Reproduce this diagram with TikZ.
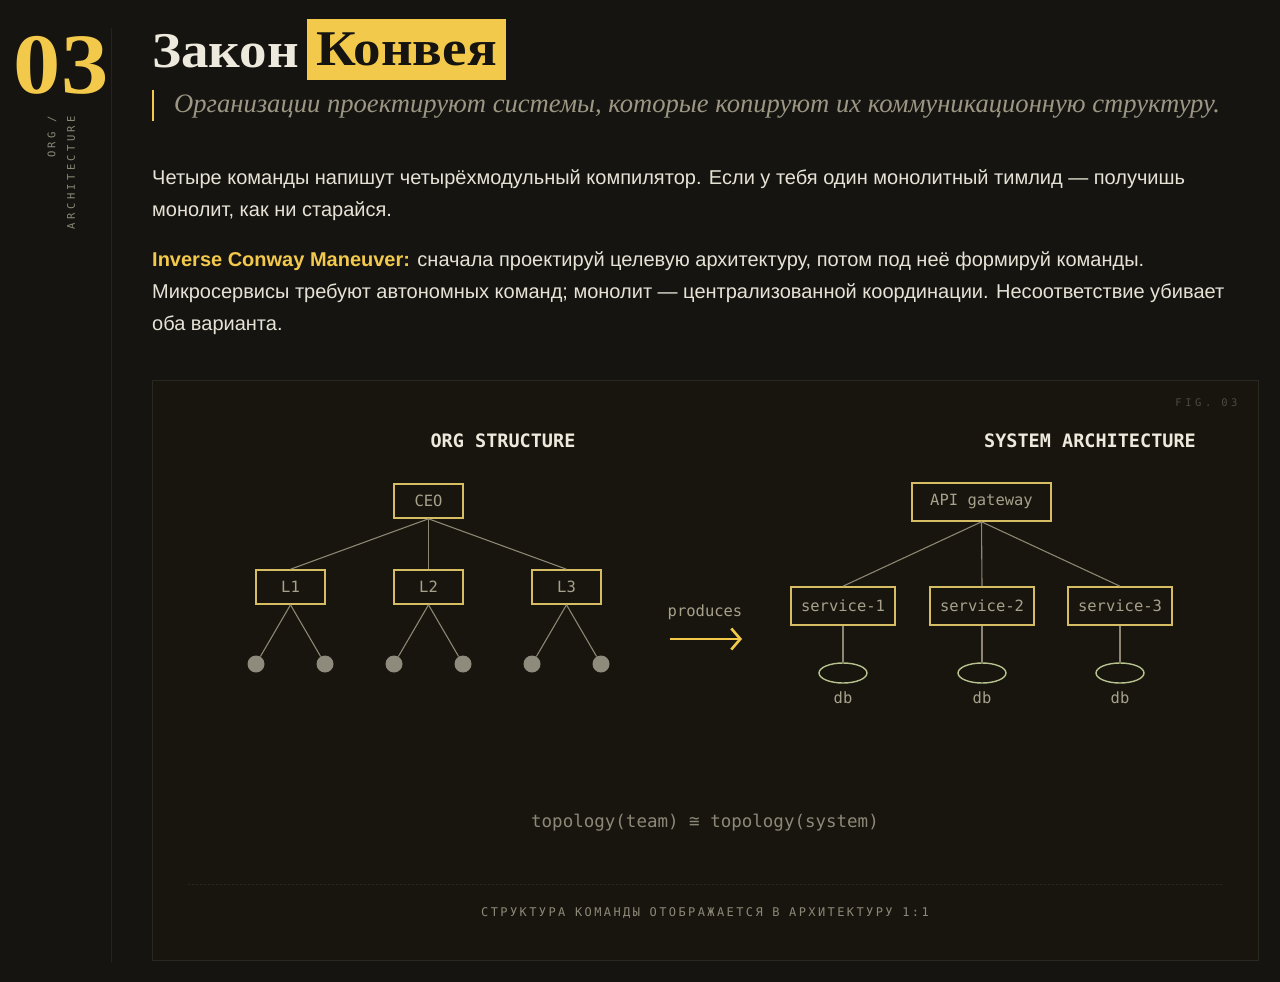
\documentclass[tikz,border=0pt]{standalone}
\usepackage{fontspec}
\setmainfont{Liberation Sans}
\newfontfamily\titleserif[FakeStretch=1.1]{Liberation Serif}
\newfontfamily\quoteserif{Liberation Serif}
\newfontfamily\codefont{DejaVu Sans Mono}
\newfontfamily\widecode[LetterSpace=20]{DejaVu Sans Mono}
\newfontfamily\figcode[LetterSpace=34]{DejaVu Sans Mono}
\newfontfamily\sidecode[LetterSpace=32]{DejaVu Sans Mono}
\usetikzlibrary{positioning}
\usetikzlibrary{shapes.geometric}
\usetikzlibrary{arrows.meta}

\definecolor{pagebg}{HTML}{161410}
\definecolor{panelbg}{HTML}{17150E}
\definecolor{panelline}{HTML}{2A2820}
\definecolor{sideline}{HTML}{25231C}
\definecolor{accent}{HTML}{F3C94B}
\definecolor{heading}{HTML}{EDE9DC}
\definecolor{bodytext}{HTML}{E6E2D6}
\definecolor{quotetext}{HTML}{9C9784}
\definecolor{boxline}{HTML}{D6BC62}
\definecolor{boxtext}{HTML}{A7A18C}
\definecolor{wirecol}{HTML}{8C8672}
\definecolor{leaffill}{HTML}{8E8A7C}
\definecolor{dbline}{HTML}{B7C28E}
\definecolor{dimtext}{HTML}{4B4940}
\definecolor{captext}{HTML}{8C8878}

\tikzset{
  orgbox/.style={draw=boxline, line width=1.6pt, minimum width=69pt,
    minimum height=34pt, inner sep=0pt, text=boxtext,
    font=\codefont\fontsize{15.5}{18}\selectfont},
  svcbox/.style={orgbox, minimum width=104pt, minimum height=38pt},
  wire/.style={draw=wirecol, line width=1.1pt},
  leaf/.style={circle, fill=leaffill, minimum size=17pt, inner sep=0pt},
  dbnode/.style={ellipse, draw=dbline, line width=1.4pt, minimum width=48pt,
    minimum height=20pt, inner sep=0pt},
  bodyline/.style={anchor=base west, inner sep=0pt, text=bodytext,
    font=\fontsize{20}{24}\selectfont},
  figlabel/.style={text=boxtext, font=\codefont\fontsize{15.5}{18}\selectfont},
  figtitle/.style={text=heading, font=\codefont\bfseries\fontsize{18.5}{22}\selectfont}
}

\begin{document}
\begin{tikzpicture}[x=1pt,y=-1pt]
  \fill[pagebg] (0,0) rectangle (1280,982);
  \useasboundingbox (0,0) rectangle (1280,982);

  % left rail
  \draw[sideline, line width=1pt] (111,28) -- (111,962);
  \node (num) [anchor=base, inner sep=0pt, text=accent,
    font=\titleserif\bfseries\fontsize{86}{86}\selectfont] at (61,93) {03};
  \node (rail1) [rotate=90, anchor=east, inner sep=0pt, text=captext,
    font=\sidecode\fontsize{10.5}{12}\selectfont] at (52,116) {ORG /};
  \node (rail2) [rotate=90, anchor=east, inner sep=0pt, text=captext,
    font=\sidecode\fontsize{10.5}{12}\selectfont] at (71,116) {ARCHITECTURE};

  % title and quote
  \node (zakon) [anchor=base west, inner sep=0pt, text=heading,
    font=\titleserif\bfseries\fontsize{50}{50}\selectfont] at (152,67) {Закон};
  \node (konvey) [anchor=west, fill=accent, text=pagebg, inner sep=0pt,
    minimum width=199pt, minimum height=61pt,
    font=\titleserif\bfseries\fontsize{50}{50}\selectfont] at (307,49.5) {Конвея};
  \draw[accent, line width=2.5pt] (153,90) -- (153,121);
  \node (quote) [anchor=base west, inner sep=0pt, text=quotetext,
    font=\quoteserif\itshape\fontsize{26.6}{30}\selectfont] at (174,112)
    {Организации проектируют системы, которые копируют их коммуникационную структуру.};

  % text
  \node (p1a) [bodyline] at (152,184)
    {Четыре команды напишут четырёхмодульный компилятор. Если у тебя один монолитный тимлид — получишь};
  \node (p1b) [bodyline] at (152,216) {монолит, как ни старайся.};
  \node (p2a) [bodyline] at (152,266)
    {\textcolor{accent}{\bfseries Inverse Conway Maneuver:} сначала проектируй целевую архитектуру, потом под неё формируй команды.};
  \node (p2b) [bodyline] at (152,298)
    {Микросервисы требуют автономных команд; монолит — централизованной координации. Несоответствие убивает};
  \node (p2c) [bodyline] at (152,330) {оба варианта.};

  % figure panel
  \draw[panelline, fill=panelbg, line width=1pt] (152,380) rectangle (1258,960);
  \node (fig) [anchor=east, text=dimtext,
    font=\figcode\fontsize{10.5}{12}\selectfont] at (1241,403) {FIG. 03};

  \node (orgh) [figtitle] at (503,441) {ORG STRUCTURE};
  \node (sysh) [figtitle] at (1090,441) {SYSTEM ARCHITECTURE};

  % org tree
  \node (ceo) [orgbox] at (428.5,501) {CEO};
  \foreach \n/\x in {1/290.5, 2/428.5, 3/566.5} {
    \node (l\n) [orgbox] at (\x,587) {L\n};
    \draw[wire] (ceo.south) -- (l\n.north);
    \node (l\n-a) [leaf] at (\x-34.5,664) {};
    \node (l\n-b) [leaf] at (\x+34.5,664) {};
    \draw[wire] (l\n.south) -- (l\n-a);
    \draw[wire] (l\n.south) -- (l\n-b);
  }

  % produces
  \node (prod) [figlabel] at (705,612) {produces};
  \coordinate (arr-a) at (670,639);
  \coordinate (arr-b) at (742,639);
  \draw[accent, line width=2.6pt, -{Straight Barb[length=9pt, width=21pt]}]
    (arr-a) -- (arr-b);

  % system tree
  \node (api) [svcbox, minimum width=139pt] at (981.5,502) {API gateway};
  \foreach \n/\x in {1/843, 2/982, 3/1120} {
    \node (s\n) [svcbox] at (\x,606) {service-\n};
    \draw[wire] (api.south) -- (s\n.north);
    \node (db\n) [dbnode] at (\x,673) {};
    \draw[wire] (s\n.south) -- (db\n.north);
    \node (dbl\n) [figlabel] at (\x,698) {db};
  }

  % bottom
  \node (topo) [text=captext, font=\codefont\fontsize{17.5}{20}\selectfont]
    at (705,823) {topology(team) ≅ topology(system)};
  \draw[panelline, line width=1pt, dash pattern=on 2pt off 2pt] (188,884) -- (1222,884);
  \node (cap) [text=captext, font=\widecode\fontsize{12}{14}\selectfont]
    at (705,913) {СТРУКТУРА КОМАНДЫ ОТОБРАЖАЕТСЯ В АРХИТЕКТУРУ 1:1};
\end{tikzpicture}
\end{document}
